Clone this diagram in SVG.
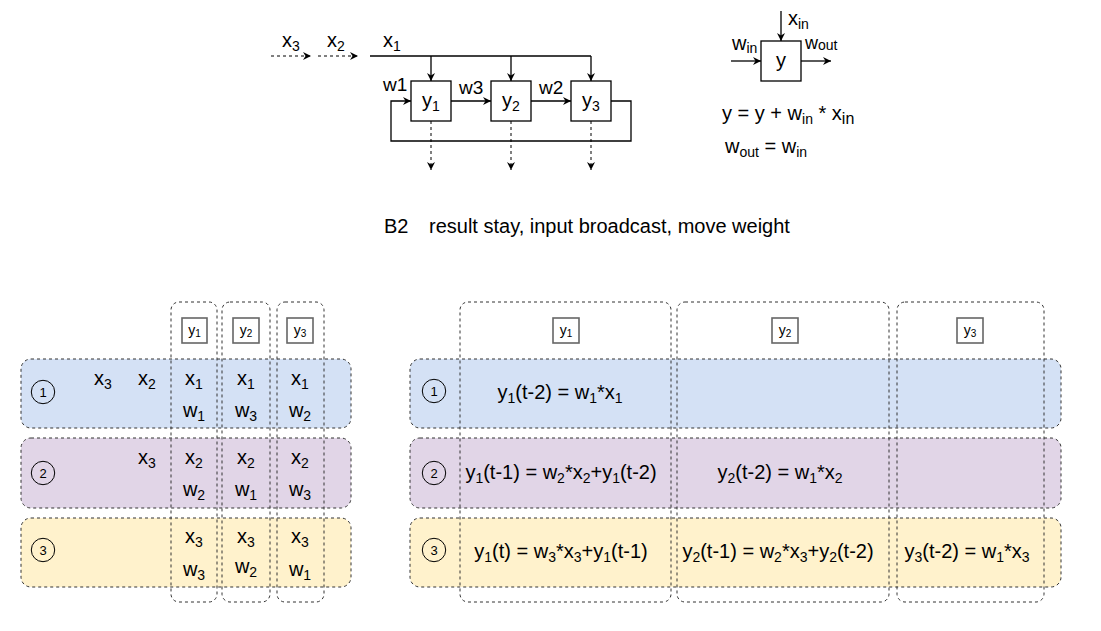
<svg xmlns="http://www.w3.org/2000/svg" width="1101" height="631" viewBox="0 0 1101 631">
<style>
text{font-family:"Liberation Sans",Arial,Helvetica,sans-serif;fill:#000}
.t{font-size:20px}
.m{text-anchor:middle}
.s{font-size:14px}
.n{font-size:13px;text-anchor:middle}
.lb{font-size:14px;text-anchor:middle}
.lbs{font-size:10px}
.ln{fill:none;stroke:#000;stroke-width:1.3}
.dl{fill:none;stroke:#000;stroke-width:1;stroke-dasharray:3,3}
.box{fill:#fff;stroke:#000;stroke-width:1.3}
.row{stroke:#333;stroke-width:1;stroke-dasharray:3,3}
.col{fill:none;stroke:#333;stroke-width:1;stroke-dasharray:3,3}
.lab{fill:#fff;stroke:#666;stroke-width:1.6}
.cir{fill:none;stroke:#000;stroke-width:1}
</style>
<defs>
<marker id="ah" markerUnits="userSpaceOnUse" markerWidth="10" markerHeight="8" refX="8" refY="4" orient="auto">
<path d="M0,0 L8,4 L0,8 L2.5,4 Z" fill="#000"/>
</marker>
</defs>

<g id="connectors">
<path class="dl" d="M271,56 H311" marker-end="url(#ah)"/>
<path class="dl" d="M318,56 H358" marker-end="url(#ah)"/>
<path class="ln" d="M370,56 H591"/>
<path class="ln" d="M431,56 V81" marker-end="url(#ah)"/>
<path class="ln" d="M511,56 V81" marker-end="url(#ah)"/>
<path class="ln" d="M591,56 V81" marker-end="url(#ah)"/>
<path class="ln" d="M451,101 H491" marker-end="url(#ah)"/>
<path class="ln" d="M531,101 H571" marker-end="url(#ah)"/>
<path class="ln" d="M611,101 H631 V141 H391 V101 H411" marker-end="url(#ah)"/>
<path class="dl" d="M431,121 V170" marker-end="url(#ah)"/>
<path class="dl" d="M511,121 V170" marker-end="url(#ah)"/>
<path class="dl" d="M591,121 V170" marker-end="url(#ah)"/>
<path class="ln" d="M781,11 V41" marker-end="url(#ah)"/>
<path class="ln" d="M731,61 H761" marker-end="url(#ah)"/>
<path class="ln" d="M801,61 H831" marker-end="url(#ah)"/>
</g>

<g id="top-labels">
<text class="t" x="282" y="47">x<tspan class="s" dy="4">3</tspan></text>
<text class="t" x="327" y="47">x<tspan class="s" dy="4">2</tspan></text>
<text class="t" x="383" y="47">x<tspan class="s" dy="4">1</tspan></text>
<text class="t" x="383" y="91" style="font-size:19px">w1</text>
<text class="t" x="459" y="94" style="font-size:19px">w3</text>
<text class="t" x="539" y="94" style="font-size:19px">w2</text>
</g>

<g id="node-y1"><rect class="box" x="411" y="81" width="40" height="40"/><text class="t m" x="431" y="107">y<tspan class="s" dy="4">1</tspan></text></g>
<g id="node-y2"><rect class="box" x="491" y="81" width="40" height="40"/><text class="t m" x="511" y="107">y<tspan class="s" dy="4">2</tspan></text></g>
<g id="node-y3"><rect class="box" x="571" y="81" width="40" height="40"/><text class="t m" x="591" y="107">y<tspan class="s" dy="4">3</tspan></text></g>

<g id="node-y">
<rect class="box" x="761" y="41" width="40" height="40"/>
<text class="t m" x="781" y="67">y</text>
<text class="t" x="788" y="25">x<tspan class="s" dy="4">in</tspan></text>
<text class="t" x="732" y="50">w<tspan class="s" dy="3">in</tspan></text>
<text class="t" x="805" y="49" style="font-size:18px">w<tspan class="s" dy="1">out</tspan></text>
</g>

<g id="formulas">
<text class="t" x="722" y="120">y = y + w<tspan class="s" dy="4">in</tspan><tspan dy="-4"> * x</tspan><tspan style="font-size:16px" dy="4">in</tspan></text>
<text class="t" x="725" y="153">w<tspan class="s" dy="4">out</tspan><tspan dy="-4"> = w</tspan><tspan class="s" dy="4">in</tspan></text>
</g>

<g id="title">
<text class="t" x="384" y="233">B2<tspan x="429">result stay, input broadcast, move weight</tspan></text>
</g>

<g id="left-table">
<rect class="row" x="21" y="359" width="330" height="69" rx="10" fill="#D4E1F5"/>
<rect class="row" x="21" y="438" width="330" height="70" rx="10" fill="#E1D5E7"/>
<rect class="row" x="21" y="518" width="330" height="69" rx="10" fill="#FFF2CC"/>
<rect class="col" x="171" y="302" width="46" height="300" rx="8"/>
<rect class="col" x="222" y="302" width="48" height="300" rx="8"/>
<rect class="col" x="277" y="302" width="47" height="300" rx="8"/>
<rect class="lab" x="182" y="318" width="25" height="25"/>
<rect class="lab" x="233" y="318" width="26" height="25"/>
<rect class="lab" x="287" y="318" width="26" height="25"/>
<text class="lb" x="194.5" y="335">y<tspan class="lbs" dy="2">1</tspan></text>
<text class="lb" x="246" y="335">y<tspan class="lbs" dy="2">2</tspan></text>
<text class="lb" x="300" y="335">y<tspan class="lbs" dy="2">3</tspan></text>
<circle class="cir" cx="43" cy="392" r="11.7"/>
<circle class="cir" cx="43" cy="473" r="11.7"/>
<circle class="cir" cx="43" cy="550" r="11.7"/>
<text class="n" x="43" y="397">1</text>
<text class="n" x="43" y="478">2</text>
<text class="n" x="43" y="555">3</text>
<text class="t m" x="103" y="385">x<tspan class="s" dy="4">3</tspan></text>
<text class="t m" x="147" y="385">x<tspan class="s" dy="4">2</tspan></text>
<text class="t m" x="194" y="385">x<tspan class="s" dy="4">1</tspan></text>
<text class="t m" x="246" y="385">x<tspan class="s" dy="4">1</tspan></text>
<text class="t m" x="300" y="385">x<tspan class="s" dy="4">1</tspan></text>
<text class="t m" x="194" y="417">w<tspan class="s" dy="4">1</tspan></text>
<text class="t m" x="246" y="417">w<tspan class="s" dy="4">3</tspan></text>
<text class="t m" x="300" y="417">w<tspan class="s" dy="4">2</tspan></text>
<text class="t m" x="147" y="464">x<tspan class="s" dy="4">3</tspan></text>
<text class="t m" x="194" y="464">x<tspan class="s" dy="4">2</tspan></text>
<text class="t m" x="246" y="464">x<tspan class="s" dy="4">2</tspan></text>
<text class="t m" x="300" y="464">x<tspan class="s" dy="4">2</tspan></text>
<text class="t m" x="194" y="496">w<tspan class="s" dy="4">2</tspan></text>
<text class="t m" x="246" y="496">w<tspan class="s" dy="4">1</tspan></text>
<text class="t m" x="300" y="496">w<tspan class="s" dy="4">3</tspan></text>
<text class="t m" x="194" y="543">x<tspan class="s" dy="4">3</tspan></text>
<text class="t m" x="246" y="543">x<tspan class="s" dy="4">3</tspan></text>
<text class="t m" x="300" y="543">x<tspan class="s" dy="4">3</tspan></text>
<text class="t m" x="194" y="576">w<tspan class="s" dy="4">3</tspan></text>
<text class="t m" x="246" y="573">w<tspan class="s" dy="4">2</tspan></text>
<text class="t m" x="300" y="576">w<tspan class="s" dy="4">1</tspan></text>
</g>

<g id="right-table">
<rect class="row" x="410" y="359" width="651" height="69" rx="10" fill="#D4E1F5"/>
<rect class="row" x="410" y="438" width="651" height="70" rx="10" fill="#E1D5E7"/>
<rect class="row" x="410" y="518" width="651" height="69" rx="10" fill="#FFF2CC"/>
<rect class="col" x="460" y="302" width="211" height="300" rx="8"/>
<rect class="col" x="677" y="302" width="212" height="300" rx="8"/>
<rect class="col" x="897" y="302" width="147" height="300" rx="8"/>
<rect class="lab" x="553" y="318" width="26" height="25"/>
<rect class="lab" x="772" y="318" width="26" height="25"/>
<rect class="lab" x="957" y="318" width="26" height="25"/>
<text class="lb" x="566" y="335">y<tspan class="lbs" dy="2">1</tspan></text>
<text class="lb" x="785" y="335">y<tspan class="lbs" dy="2">2</tspan></text>
<text class="lb" x="970" y="335">y<tspan class="lbs" dy="2">3</tspan></text>
<circle class="cir" cx="434" cy="391" r="11.7"/>
<circle class="cir" cx="434" cy="473" r="11.7"/>
<circle class="cir" cx="434" cy="550" r="11.7"/>
<text class="n" x="434" y="396">1</text>
<text class="n" x="434" y="478">2</text>
<text class="n" x="434" y="555">3</text>
<text class="t m" x="560" y="399">y<tspan class="s" dy="4">1</tspan><tspan dy="-4">(t-2) = w</tspan><tspan class="s" dy="4">1</tspan><tspan dy="-4">*x</tspan><tspan class="s" dy="4">1</tspan></text>
<text class="t m" x="561" y="479">y<tspan class="s" dy="4">1</tspan><tspan dy="-4">(t-1) = w</tspan><tspan class="s" dy="4">2</tspan><tspan dy="-4">*x</tspan><tspan class="s" dy="4">2</tspan><tspan dy="-4">+y</tspan><tspan class="s" dy="4">1</tspan><tspan dy="-4">(t-2)</tspan></text>
<text class="t m" x="780" y="479">y<tspan class="s" dy="4">2</tspan><tspan dy="-4">(t-2) = w</tspan><tspan class="s" dy="4">1</tspan><tspan dy="-4">*x</tspan><tspan class="s" dy="4">2</tspan></text>
<text class="t m" x="561" y="558">y<tspan class="s" dy="4">1</tspan><tspan dy="-4">(t) = w</tspan><tspan class="s" dy="4">3</tspan><tspan dy="-4">*x</tspan><tspan class="s" dy="4">3</tspan><tspan dy="-4">+y</tspan><tspan class="s" dy="4">1</tspan><tspan dy="-4">(t-1)</tspan></text>
<text class="t m" x="778" y="558">y<tspan class="s" dy="4">2</tspan><tspan dy="-4">(t-1) = w</tspan><tspan class="s" dy="4">2</tspan><tspan dy="-4">*x</tspan><tspan class="s" dy="4">3</tspan><tspan dy="-4">+y</tspan><tspan class="s" dy="4">2</tspan><tspan dy="-4">(t-2)</tspan></text>
<text class="t m" x="967" y="558">y<tspan class="s" dy="4">3</tspan><tspan dy="-4">(t-2) = w</tspan><tspan class="s" dy="4">1</tspan><tspan dy="-4">*x</tspan><tspan class="s" dy="4">3</tspan></text>
</g>
</svg>
